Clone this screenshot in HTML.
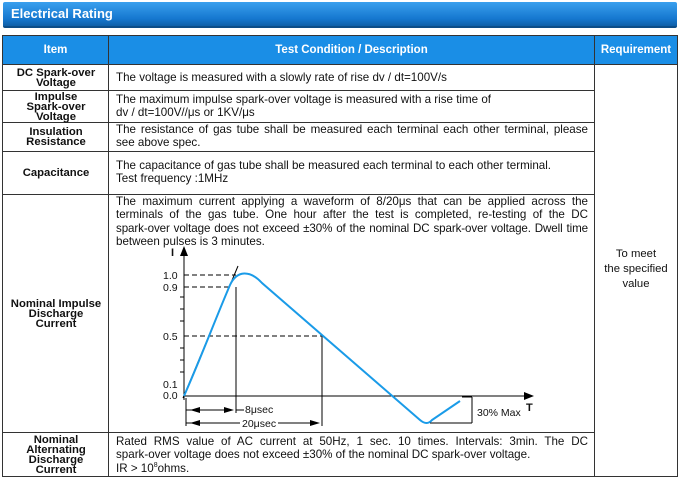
<!DOCTYPE html>
<html><head><style>
*{margin:0;padding:0;box-sizing:border-box}
body{width:680px;height:479px;background:#fff;font-family:"Liberation Sans",Arial,sans-serif;position:relative;overflow:hidden;color:#111}
.bar{position:absolute;left:3px;top:2px;width:674px;height:26px;background:linear-gradient(#3aa0ee,#1577cf 70%,#0f5fa8);border-bottom:2px solid #0c4d88;border-radius:2px}
.bar span{position:absolute;left:8px;top:4px;color:#fff;font-weight:bold;font-size:13px}
.b{position:absolute;background:#333}
.hd{position:absolute;top:36px;height:28px;background:#1a8ee6;color:#fff;font-weight:bold;font-size:11.5px;display:flex;align-items:center;justify-content:center}
.it{position:absolute;left:4px;width:104px;font-weight:bold;font-size:11.3px;line-height:10px;text-align:center;display:flex;align-items:center;justify-content:center}
.ds{position:absolute;left:116px;width:472px;font-size:11.6px;line-height:13.3px}
.j{display:block;text-align:justify;text-align-last:justify;white-space:nowrap;overflow:visible}
.j{white-space:normal}
</style></head><body>
<div class="bar"><span>Electrical Rating</span></div>
<div class="hd" style="left:3px;width:105px">Item</div>
<div class="hd" style="left:109px;width:485px">Test Condition / Description</div>
<div class="hd" style="left:595px;width:82px">Requirement</div>
<div class="b" style="left:2px;top:35px;width:676px;height:1px"></div>
<div class="b" style="left:2px;top:476px;width:676px;height:1px"></div>
<div class="b" style="left:2px;top:35px;width:1px;height:442px"></div>
<div class="b" style="left:677px;top:35px;width:1px;height:442px"></div>
<div class="b" style="left:108px;top:35px;width:1px;height:442px"></div>
<div class="b" style="left:594px;top:35px;width:1px;height:442px"></div>
<div class="b" style="left:2px;top:64px;width:676px;height:1px"></div>
<div class="b" style="left:2px;top:90px;width:593px;height:1px"></div>
<div class="b" style="left:2px;top:122px;width:593px;height:1px"></div>
<div class="b" style="left:2px;top:151px;width:593px;height:1px"></div>
<div class="b" style="left:2px;top:194px;width:593px;height:1px"></div>
<div class="b" style="left:2px;top:432px;width:593px;height:1px"></div>

<div class="it" style="top:65px;height:25px">DC Spark-over<br>Voltage</div>
<div class="it" style="top:91px;height:31px">Impulse<br>Spark-over<br>Voltage</div>
<div class="it" style="top:123px;height:28px">Insulation<br>Resistance</div>
<div class="it" style="top:152px;height:42px">Capacitance</div>
<div class="it" style="top:195px;height:237px">Nominal Impulse<br>Discharge<br>Current</div>
<div class="it" style="top:433px;height:43px">Nominal<br>Alternating<br>Discharge<br>Current</div>

<div class="ds" style="top:71px">The voltage is measured with a slowly rate of rise dv / dt=100V/s</div>
<div class="ds" style="top:93px">The maximum impulse spark-over voltage is measured with a rise time of<br>dv / dt=100V//μs or 1KV/μs</div>
<div class="ds" style="top:123px"><span class="j" style="word-spacing:-0.6px">The resistance of gas tube shall be measured each terminal each other terminal, please</span>see above spec.</div>
<div class="ds" style="top:159px">The capacitance of gas tube shall be measured each terminal to each other terminal.<br>Test frequency :1MHz</div>
<div class="ds" style="top:195px"><span class="j">The maximum current applying a waveform of 8/20μs that can be applied across the</span><span class="j" style="word-spacing:-0.5px">terminals of the gas tube. One hour after the test is completed, re-testing of the DC</span><span class="j" style="word-spacing:-0.8px;letter-spacing:-0.1px">spark-over voltage does not exceed ±30% of the nominal DC spark-over voltage. Dwell time</span>between pulses is 3 minutes.</div>
<div class="ds" style="top:435px"><span class="j" style="word-spacing:-0.5px">Rated RMS value of AC current at 50Hz, 1 sec. 10 times. Intervals: 3min. The DC</span>spark-over voltage does not exceed ±30% of the nominal DC spark-over voltage.<br>IR &gt; 10<sup style="font-size:7px;line-height:0">8</sup>ohms.</div>
<div style="position:absolute;left:595px;top:247px;width:82px;text-align:center;font-size:11.3px;line-height:15px">To meet<br>the specified<br>value</div>

<svg style="position:absolute;left:0;top:0" width="680" height="479" font-family="Liberation Sans,Arial,sans-serif" font-size="10.5">
<g stroke="#000" stroke-width="1" fill="none">
<line x1="184" y1="400" x2="184" y2="252"/>
<line x1="184" y1="396" x2="528" y2="396"/>
<g stroke-dasharray="5,3">
<line x1="184" y1="275" x2="236" y2="275"/>
<line x1="184" y1="287" x2="232" y2="287"/>
<line x1="184" y1="336" x2="322" y2="336"/>
</g>
<line x1="236" y1="287" x2="236" y2="413"/>
<line x1="322" y1="336" x2="322" y2="426"/>
<line x1="186" y1="398" x2="186" y2="426"/>
<line x1="186" y1="410" x2="230" y2="410"/>
<line x1="236" y1="410" x2="244" y2="410"/>
<line x1="186" y1="423" x2="240" y2="423"/>
<line x1="278" y1="423" x2="316" y2="423"/>
<line x1="472" y1="397" x2="472" y2="423"/>
<line x1="430" y1="423" x2="472" y2="423"/>
<line x1="462" y1="397" x2="472" y2="397"/>
<line x1="183" y1="398" x2="238" y2="266"/>
<line x1="180" y1="297" x2="184" y2="297"/><line x1="180" y1="309" x2="184" y2="309"/><line x1="180" y1="321" x2="184" y2="321"/><line x1="180" y1="348" x2="184" y2="348"/><line x1="180" y1="360" x2="184" y2="360"/><line x1="180" y1="372" x2="184" y2="372"/>
</g>
<g fill="#000">
<polygon points="184,246 180,256 188,256"/>
<polygon points="534,396 524,392 524,400"/>
<polygon points="190,410 200,407 200,413"/><polygon points="234,410 224,407 224,413"/>
<polygon points="190,423 200,420 200,426"/><polygon points="320,423 310,420 310,426"/>
</g>
<path d="M184,396 C200,360 215,320 230,285 C237,270 250,270 262,283 L420,420 Q427,426 432,420 L460,401" stroke="#1a9be8" stroke-width="2" fill="none"/>
<g fill="#111">
<text x="171" y="256" font-weight="bold" font-size="11">I</text>
<text x="163" y="279">1.0</text>
<text x="163" y="291">0.9</text>
<text x="163" y="340">0.5</text>
<text x="163" y="388">0.1</text>
<text x="163" y="399">0.0</text>
<text x="245" y="413">8μsec</text>
<text x="242" y="427">20μsec</text>
<text x="477" y="416">30% Max</text>
<text x="526" y="411" font-weight="bold" font-size="11">T</text>
</g>
</svg>
</body></html>
